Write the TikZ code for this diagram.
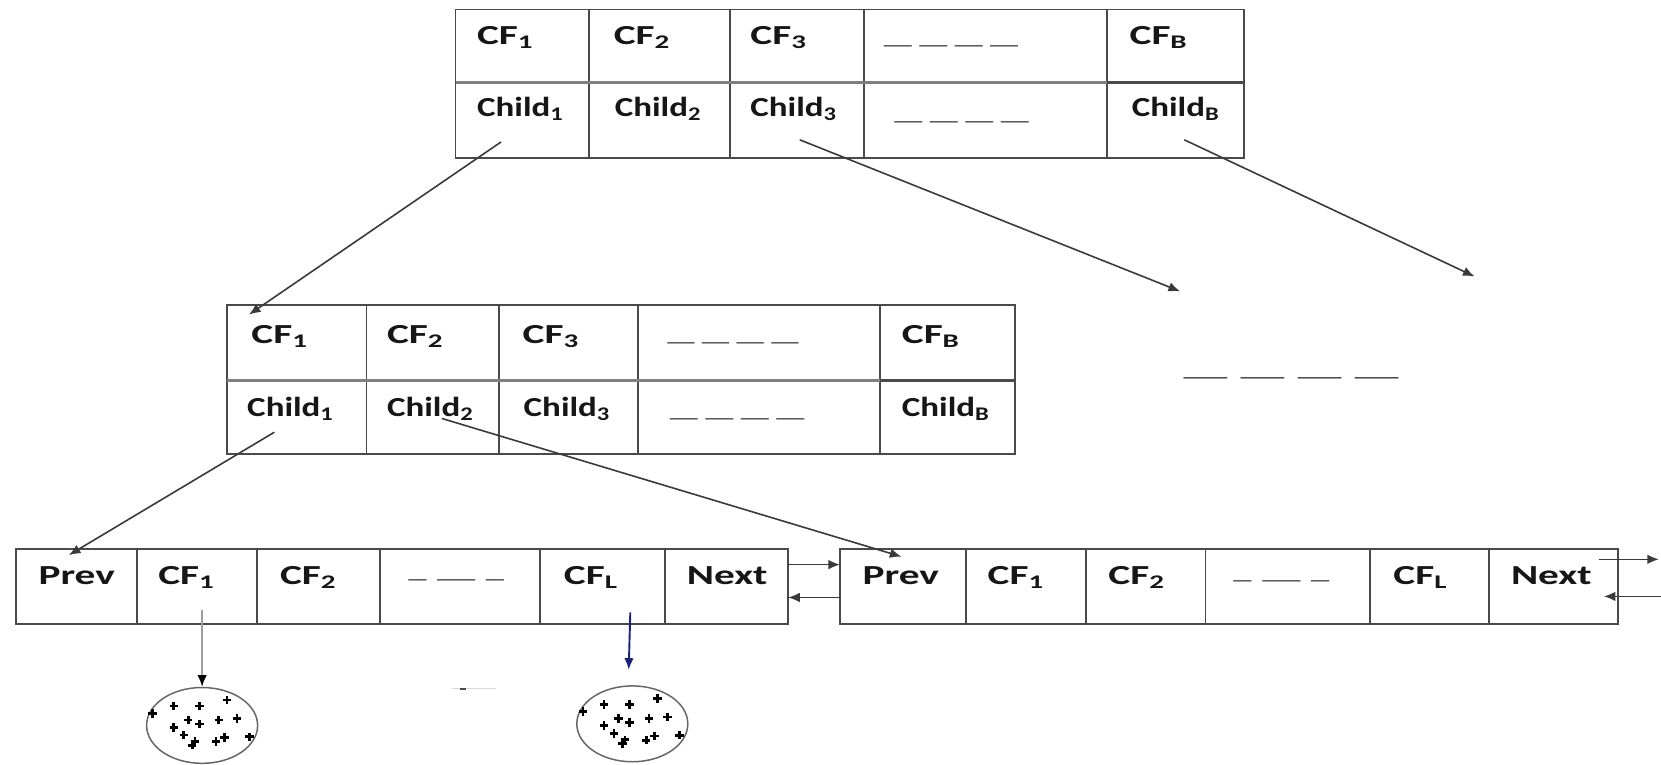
\documentclass[tikz,border=0pt]{standalone}
\usepackage{fontspec}
\setmainfont{Carlito}
\newfontfamily\cellfont{Carlito}[FakeStretch=1.5]
\newfontfamily\childfont{Carlito}[FakeStretch=1.27]
\newfontfamily\gapfont{Carlito}[FakeStretch=1.38]
\usetikzlibrary{arrows.meta,shapes.geometric,calc}

\definecolor{gridline}{HTML}{4A4A4A}
\definecolor{divline}{HTML}{808080}
\definecolor{dashink}{HTML}{5A5A5A}
\definecolor{ink}{HTML}{161616}
\definecolor{linkgray}{HTML}{3A3A3A}
\definecolor{pointer}{HTML}{1B2478}

% one empty table cell: name, x1, y1, x2, y2
\newcommand\cellbox[5]{%
  \node[cellframe, minimum width={(#4-#2)*0.5pt}, minimum height={(#5-#3)*0.5pt}] (#1) at (#2,#3) {};}
% text inside a cell: cell, style, dx, dy, text
\newcommand\celltext[5]{%
  \node[#2] (#1-txt) at ([shift={(#3,#4)}]#1.north west) {#5};}
% one stretched underscore
\newcommand\gapbar[1]{\scalebox{#1}[1]{\_}}

\begin{document}
\begin{tikzpicture}[x=0.5pt,y=-0.5pt,
  cellframe/.style={draw=gridline, line width=0.9pt, rectangle, inner sep=0pt, outer sep=0pt, anchor=north west},
  cftext/.style={font=\cellfont\bfseries\fontsize{13}{15}\selectfont, text=ink, inner sep=0pt, anchor=base west},
  childtext/.style={font=\childfont\bfseries\fontsize{13}{15}\selectfont, text=ink, inner sep=0pt, anchor=base west},
  gaptext/.style={font=\gapfont\fontsize{12.5}{14}\selectfont, text=dashink, inner sep=0pt, anchor=base west},
  divider/.style={draw=divline, line width=1.6pt},
  link/.style={draw=linkgray, line width=0.75pt, -{Latex[length=5.5pt,width=4.5pt]}},
  cluster/.style={ellipse, draw=gray!80!black, line width=0.7pt, inner sep=0pt, minimum width=52.4pt, minimum height=35.8pt},
  plusmark/.style={draw=black, line width=1.3pt},
]
\useasboundingbox (0,0) rectangle (1568,722);
\fill[white] (0,0) rectangle (1568,722);

% ---------------- root node ----------------
\cellbox{t1a}{430}{9}{556}{78}
\cellbox{t2a}{556}{9}{689}{78}
\cellbox{t3a}{689}{9}{816}{78}
\cellbox{t4a}{816}{9}{1045}{78}
\cellbox{t5a}{1045}{9}{1174}{78}
\cellbox{t1b}{430}{78}{556}{149}
\cellbox{t2b}{556}{78}{689}{149}
\cellbox{t3b}{689}{78}{816}{149}
\cellbox{t4b}{816}{78}{1045}{149}
\cellbox{t5b}{1045}{78}{1174}{149}
\draw[divider] (t1a.south west) -- (t5a.south west);
\draw[draw=gridline, line width=1.6pt] (t5a.south west) -- (t5a.south east);

\celltext{t1a}{cftext}{20}{33}{CF\textsubscript{1}}
\celltext{t2a}{cftext}{23}{33}{CF\textsubscript{2}}
\celltext{t3a}{cftext}{19}{33}{CF\textsubscript{3}}
\celltext{t4a}{gaptext}{18}{32}{\gapbar{1.54}\hspace{3.5pt}\gapbar{1.54}\hspace{3.5pt}\gapbar{1.54}\hspace{3.5pt}\gapbar{1.54}}
\celltext{t5a}{cftext}{21}{33}{CF\textsubscript{B}}
\celltext{t1b}{childtext}{20}{32}{Child\textsubscript{1}}
\celltext{t2b}{childtext}{24}{32}{Child\textsubscript{2}}
\celltext{t3b}{childtext}{19}{32}{Child\textsubscript{3}}
\celltext{t4b}{gaptext}{28}{34.5}{\gapbar{1.54}\hspace{3.5pt}\gapbar{1.54}\hspace{3.5pt}\gapbar{1.54}\hspace{3.5pt}\gapbar{1.54}}
\celltext{t5b}{childtext}{23}{32}{Child\textsubscript{B}}

% ---------------- non-leaf node ----------------
\cellbox{m1a}{214}{288}{346}{359}
\cellbox{m2a}{346}{288}{471}{359}
\cellbox{m3a}{471}{288}{602}{359}
\cellbox{m4a}{602}{288}{831}{359}
\cellbox{m5a}{831}{288}{958}{359}
\cellbox{m1b}{214}{359}{346}{429}
\cellbox{m2b}{346}{359}{471}{429}
\cellbox{m3b}{471}{359}{602}{429}
\cellbox{m4b}{602}{359}{831}{429}
\cellbox{m5b}{831}{359}{958}{429}
\draw[divider] (m1a.south west) -- (m5a.south west);
\draw[draw=gridline, line width=1.6pt] (m5a.south west) -- (m5a.south east);

\celltext{m1a}{cftext}{23}{36}{CF\textsubscript{1}}
\celltext{m2a}{cftext}{19}{36}{CF\textsubscript{2}}
\celltext{m3a}{cftext}{22}{36}{CF\textsubscript{3}}
\celltext{m4a}{gaptext}{27.5}{33.5}{\gapbar{1.5}\hspace{3.5pt}\gapbar{1.5}\hspace{3.5pt}\gapbar{1.5}\hspace{3.5pt}\gapbar{1.5}}
\celltext{m5a}{cftext}{20}{36}{CF\textsubscript{B}}
\celltext{m1b}{childtext}{19}{34}{Child\textsubscript{1}}
\celltext{m2b}{childtext}{19}{34}{Child\textsubscript{2}}
\celltext{m3b}{childtext}{23}{34}{Child\textsubscript{3}}
\celltext{m4b}{gaptext}{30}{34.5}{\gapbar{1.54}\hspace{3.5pt}\gapbar{1.54}\hspace{3.5pt}\gapbar{1.54}\hspace{3.5pt}\gapbar{1.54}}
\celltext{m5b}{childtext}{20}{34}{Child\textsubscript{B}}

% ---------------- leaf nodes ----------------
\cellbox{l1}{15}{518}{129}{589}
\cellbox{l2}{129}{518}{243}{589}
\cellbox{l3}{243}{518}{359}{589}
\cellbox{l4}{359}{518}{510}{589}
\cellbox{l5}{510}{518}{628}{589}
\cellbox{l6}{628}{518}{744}{589}
\celltext{l1}{cftext}{21}{34}{Prev}
\celltext{l2}{cftext}{20}{34}{CF\textsubscript{1}}
\celltext{l3}{cftext}{21}{34}{CF\textsubscript{2}}
\celltext{l4}{gaptext}{26}{27}{\gapbar{1}\hspace{5pt}\gapbar{2.1}\hspace{5pt}\gapbar{1}}
\celltext{l5}{cftext}{22}{34}{CF\textsubscript{L}}
\celltext{l6}{cftext}{20}{34}{Next}

\cellbox{r1}{793}{518}{912}{589}
\cellbox{r2}{912}{518}{1025}{589}
\cellbox{r3}{1025}{518}{1138}{589}
\cellbox{r4}{1138}{518}{1293}{589}
\cellbox{r5}{1293}{518}{1406}{589}
\cellbox{r6}{1406}{518}{1527}{589}
\celltext{r1}{cftext}{21}{34}{Prev}
\celltext{r2}{cftext}{20}{34}{CF\textsubscript{1}}
\celltext{r3}{cftext}{21}{34}{CF\textsubscript{2}}
\celltext{r4}{gaptext}{26}{28.5}{\gapbar{1}\hspace{5pt}\gapbar{2.1}\hspace{5pt}\gapbar{1}}
\celltext{r5}{cftext}{22}{34}{CF\textsubscript{L}}
\celltext{r6}{cftext}{20}{34}{Next}

% further entries of the root level
\node[gaptext, text=gridline] (more) at (1117,354.5) {\gapbar{2.4}\hspace{6.3pt}\gapbar{2.4}\hspace{6.3pt}\gapbar{2.4}\hspace{6.3pt}\gapbar{2.4}};

% ---------------- subclusters ----------------
\node[cluster] (c1) at (190.8,684.8) {};
\node[cluster] (c2) at (596.9,683.3) {};
\foreach \cl in {c1,c2}{
  \foreach \u/\v in {-0.51/-0.51, -0.05/-0.51, 0.45/-0.67, -0.89/-0.32, -0.25/-0.14,
                     -0.05/-0.04, 0.30/-0.14, 0.63/-0.18, -0.51/0.05, -0.33/0.25,
                     -0.13/0.42, -0.18/0.52, 0.25/0.43, 0.40/0.32, 0.85/0.30}{
    \draw[plusmark] ($(\cl.center)+(\u*52.4,\v*35.8)$) +(-4,0) -- +(4,0) +(0,-4) -- +(0,4);
  }
}

% stray mark between the clusters
\coordinate (s1) at (427,650);
\coordinate (s2) at (468,650);
\coordinate (sdot) at (437,650);
\draw[gray!30, line width=0.6pt] (s1) -- (s2);
\draw[gray!60!black, line width=0.9pt] ([shift={(-3,0)}]sdot) -- ([shift={(3,0)}]sdot);

% ---------------- child pointers ----------------
\coordinate (p1s) at ([shift={(43,56)}]t1b.north west);
\coordinate (p1e) at ([shift={(21,9)}]m1a.north west);
\coordinate (p2s) at ([shift={(66,54)}]t3b.north west);
\coordinate (p2e) at (1114,275);
\coordinate (p3s) at ([shift={(73,54)}]t5b.north west);
\coordinate (p3e) at (1392,261);
\coordinate (p4s) at ([shift={(45,49)}]m1b.north west);
\coordinate (p4e) at ([shift={(50,6)}]l1.north west);
\coordinate (p5s) at ([shift={(71,36)}]m2b.north west);
\coordinate (p5e) at ([shift={(58,7.5)}]r1.north west);
\draw[link] (p1s) -- (p1e);
\draw[link] (p2s) -- (p2e);
\draw[link] (p3s) -- (p3e);
\draw[link] (p4s) -- (p4e);
\draw[link] (p5s) -- (p5e);

% ---------------- leaf chain links ----------------
\draw[link] ([shift={(0,15)}]l6.north east) -- ([shift={(0,15)}]r1.north west);
\draw[link] ([shift={(0,46)}]r1.north west) -- ([shift={(0,46)}]l6.north east);
\coordinate (nxt) at (1566,528);
\coordinate (prv) at (1568,563);
\draw[link] ([shift={(-18,10)}]r6.north east) -- (nxt);
\draw[link] (prv) -- ([shift={(-13,45)}]r6.north east);

% ---------------- entry to subcluster pointers ----------------
\draw[draw=gray!75, line width=0.9pt, -{Latex[length=5.5pt,width=4.5pt,color=black]}]
  ([shift={(0,-72)}]c1.north) -- (c1.north);
\coordinate (p6e) at ([shift={(-3.4,-14.5)}]c2.north);
\draw[draw=pointer, line width=0.9pt, -{Latex[length=5.5pt,width=4.5pt]}]
  ([shift={(85,60)}]l5.north west) -- (p6e);
\end{tikzpicture}
\end{document}
